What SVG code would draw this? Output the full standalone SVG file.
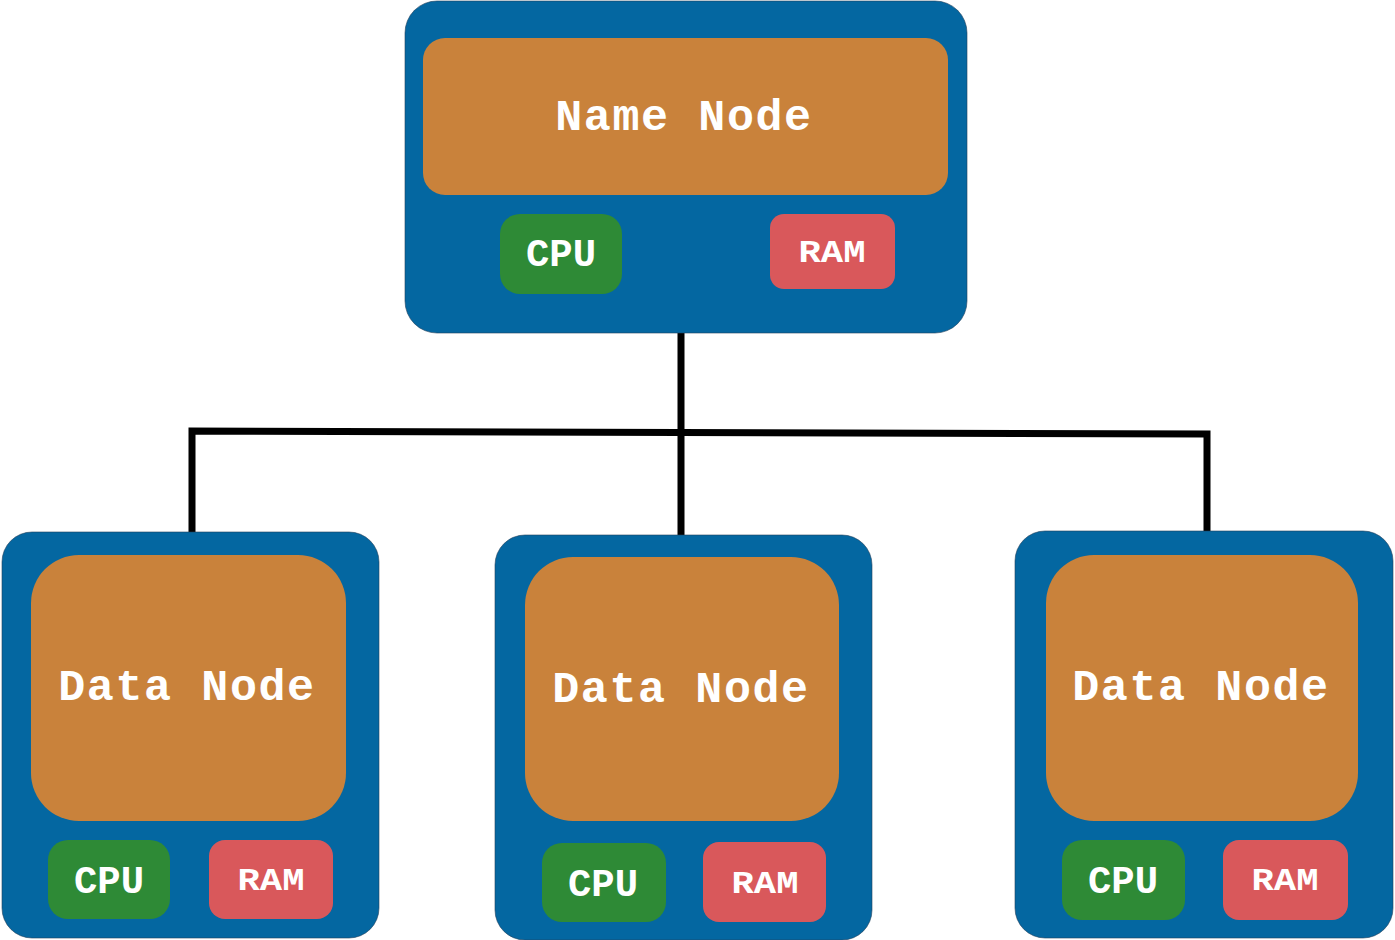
<svg xmlns="http://www.w3.org/2000/svg" width="1395" height="940" viewBox="0 0 1395 940">
<style>
.outer{fill:#0467a1;stroke:#23405a;stroke-width:0.6}
.core{fill:#c9823b}
.cpu{fill:#2e8a36}
.ram{fill:#d9585b}
.t{font-family:"Liberation Mono","Courier New",monospace;font-weight:bold;fill:#ffffff;text-anchor:middle}
.big{font-size:45px;letter-spacing:1.6px}
.cpuT{font-size:38px}
.ramT{font-size:32px}
.conn{fill:none;stroke:#000;stroke-width:7;stroke-linejoin:miter}
</style>
<rect width="1395" height="940" fill="#ffffff"/>
<g id="connectors">
<path class="conn" d="M681,333 V535"/>
<path class="conn" d="M192,532 V431 L1207,434 V531"/>
</g>
<g id="name-node">
<rect class="outer" x="405" y="1" width="562" height="332" rx="32"/>
<rect class="core" x="423" y="38" width="525" height="157" rx="22"/>
<text class="t big" x="684" y="130">Name Node</text>
<rect class="cpu" x="500" y="214" width="122" height="80" rx="20"/>
<text class="t cpuT" x="561" y="266" textLength="70" lengthAdjust="spacingAndGlyphs">CPU</text>
<rect class="ram" x="770" y="214" width="125" height="75" rx="14"/>
<text class="t ramT" x="832" y="262" textLength="67" lengthAdjust="spacingAndGlyphs">RAM</text>
</g>
<g id="data-node-1">
<rect class="outer" x="2" y="532" width="377" height="406" rx="30"/>
<rect class="core" x="31" y="555" width="315" height="266" rx="48"/>
<text class="t big" x="187" y="700">Data Node</text>
<rect class="cpu" x="48" y="840" width="122" height="79" rx="20"/>
<text class="t cpuT" x="109" y="893" textLength="70" lengthAdjust="spacingAndGlyphs">CPU</text>
<rect class="ram" x="209" y="840" width="124" height="79" rx="16"/>
<text class="t ramT" x="271" y="890" textLength="67" lengthAdjust="spacingAndGlyphs">RAM</text>
</g>
<g id="data-node-2">
<rect class="outer" x="495" y="535" width="377" height="405" rx="30"/>
<rect class="core" x="525" y="557" width="314" height="264" rx="48"/>
<text class="t big" x="681" y="702">Data Node</text>
<rect class="cpu" x="542" y="843" width="124" height="79" rx="20"/>
<text class="t cpuT" x="603" y="896" textLength="70" lengthAdjust="spacingAndGlyphs">CPU</text>
<rect class="ram" x="703" y="842" width="123" height="80" rx="16"/>
<text class="t ramT" x="765" y="893" textLength="67" lengthAdjust="spacingAndGlyphs">RAM</text>
</g>
<g id="data-node-3">
<rect class="outer" x="1015" y="531" width="378" height="407" rx="30"/>
<rect class="core" x="1046" y="555" width="312" height="266" rx="48"/>
<text class="t big" x="1201" y="700">Data Node</text>
<rect class="cpu" x="1062" y="840" width="123" height="80" rx="20"/>
<text class="t cpuT" x="1123" y="893" textLength="70" lengthAdjust="spacingAndGlyphs">CPU</text>
<rect class="ram" x="1223" y="840" width="125" height="80" rx="16"/>
<text class="t ramT" x="1285" y="890" textLength="67" lengthAdjust="spacingAndGlyphs">RAM</text>
</g>
</svg>
